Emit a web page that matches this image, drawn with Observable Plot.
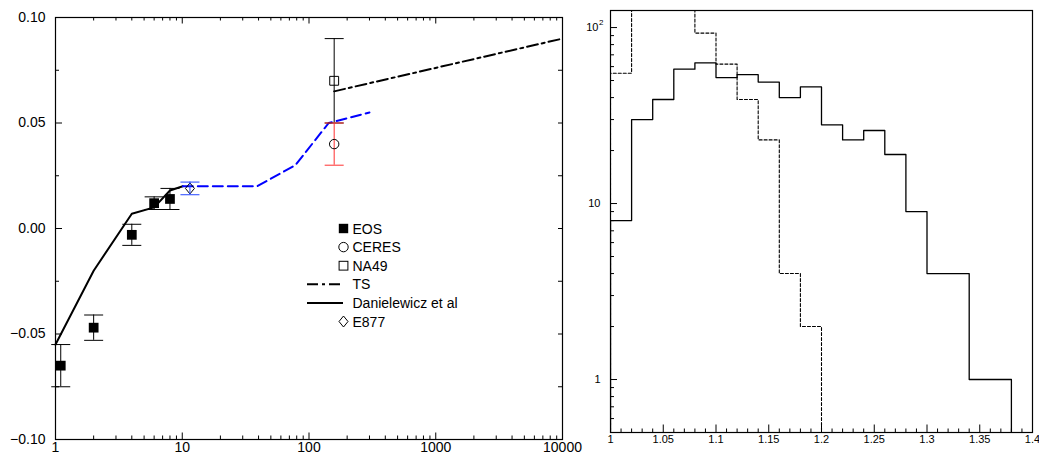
<!DOCTYPE html>
<html><head><meta charset="utf-8">
<script src="https://cdn.jsdelivr.net/npm/d3@7"></script>
<script src="https://cdn.jsdelivr.net/npm/@observablehq/plot@0.6"></script>
<style>
body{margin:0;background:#fff;}
#wrap{position:relative;width:1039px;height:458px;overflow:hidden;font-family:"Liberation Sans",Arial,sans-serif;}
#left{position:absolute;left:0;top:0;}
#right{position:absolute;left:580px;top:0;}
</style></head><body><div id="wrap"><div id="left"></div><div id="right"></div></div>
<script>
// ---------- Left panel data ----------
const eosX  = [1.1, 2, 4, 6, 8];
const eosY  = [-0.065, -0.047, -0.003, 0.012, 0.014];
const eosLo = [-0.075, -0.053, -0.008, 0.009, 0.009];
const eosHi = [-0.055, -0.041, 0.002, 0.015, 0.019];

const e877X = [11.5], e877Y = [0.019], e877Lo = [0.016], e877Hi = [0.022];
const na49X = [158], na49Y = [0.070], na49Lo = [0.050], na49Hi = [0.090];
const ceresX = [158], ceresY = [0.040], ceresLo = [0.030], ceresHi = [0.050];

const tsX = [158, 10000];
const tsY = [0.065, 0.090];
const danX = [1, 2, 4, 6, 8, 10.1];
const danY = [-0.055, -0.020, 0.007, 0.010, 0.018, 0.020];
const blueX = [10.1, 39, 78, 143, 300];
const blueY = [0.020, 0.020, 0.030, 0.050, 0.055];

const leftYTicks = [-0.10, -0.05, 0.00, 0.05, 0.10];
const leftYLabels = ["\u22120.10", "\u22120.05", "0.00", "0.05", "0.10"];
const leftYMinor = [-0.075, -0.025, 0.025, 0.075];
const leftYRight = [-0.075, -0.05, -0.025, 0, 0.025, 0.05, 0.075];
const leftXTicks = [1, 10, 100, 1000, 10000];
const leftXLabels = ["1", "10", "100", "1000", "10000"];
const leftXMinor = [2,3,4,5,6,7,8,9,20,30,40,50,60,70,80,90,200,300,400,500,600,700,800,900,2000,3000,4000,5000,6000,7000,8000,9000];

const legendLabels = ["EOS", "CERES", "NA49", "TS", "Danielewicz et al", "E877"];

// ---------- Right panel data ----------
const binEdges = [1.00,1.02,1.04,1.06,1.08,1.10,1.12,1.14,1.16,1.18,1.20,1.22,1.24,1.26,1.28,1.30,1.32,1.34,1.36,1.38,1.40];
const solidCounts  = [8,30,39,58,63,52,54,49,40,46,28,23,26,19,9,4,4,1,1,0];
const dashedCounts = [55,150,170,140,93,62,39,23,4,2,0,0,0,0,0,0,0,0,0,0];
const rightXTicks = [1,1.05,1.1,1.15,1.2,1.25,1.3,1.35,1.4];
const rightXLabels = ["1","1.05","1.1","1.15","1.2","1.25","1.3","1.35","1.4"];
const rightXMinor = [1.01,1.02,1.03,1.04,1.06,1.07,1.08,1.09,1.11,1.12,1.13,1.14,1.16,1.17,1.18,1.19,1.21,1.22,1.23,1.24,1.26,1.27,1.28,1.29,1.31,1.32,1.33,1.34,1.36,1.37,1.38,1.39];
const rightYTicks = [1, 10];
const rightYLabels = ["1", "10"];
const rightYTop = [100];
const rightYTopBase = "10", rightYTopExp = "2";
const rightYMinor = [0.6,0.7,0.8,0.9,2,3,4,5,6,7,8,9,20,30,40,50,60,70,80,90];

// ---------- helpers ----------
const pts = (xs, ys) => xs.map((x, i) => ({x, y: ys[i]}));
const errs = (xs, ys, lo, hi) => xs.map((x, i) => ({x, y: ys[i], lo: lo[i], hi: hi[i]}));
const capSymbol = {draw(ctx){ ctx.moveTo(-9.5, 0); ctx.lineTo(9.5, 0); }};
const diamondSymbol = {draw(ctx){ ctx.moveTo(0,-5.5); ctx.lineTo(4.5,0); ctx.lineTo(0,5.5); ctx.lineTo(-4.5,0); ctx.closePath(); }};
const FONT = "'Liberation Sans', Arial, Helvetica, sans-serif";

function errorBars(data, color) {
  return [
    Plot.ruleX(data, {x: "x", y1: "lo", y2: "hi", stroke: color, strokeWidth: 1}),
    Plot.dot(data, {x: "x", y: "lo", symbol: capSymbol, stroke: color, fill: "none", strokeWidth: 1}),
    Plot.dot(data, {x: "x", y: "hi", symbol: capSymbol, stroke: color, fill: "none", strokeWidth: 1})
  ];
}

// ---------- Left panel ----------
const H = 458;
const W1 = 600, mL1 = 55, mR1 = W1 - 562, mT1 = 17, mB1 = H - 439;
const iW1 = W1 - mL1 - mR1, iH1 = H - mT1 - mB1;

const eos = errs(eosX, eosY, eosLo, eosHi);
const e877 = errs(e877X, e877Y, e877Lo, e877Hi);
const na49 = errs(na49X, na49Y, na49Lo, na49Hi);
const ceres = errs(ceresX, ceresY, ceresLo, ceresHi);

const leftPlot = Plot.plot({
  width: W1, height: H,
  marginLeft: mL1, marginRight: mR1, marginTop: mT1, marginBottom: mB1,
  x: {type: "log", domain: [1, 10000], axis: null},
  y: {domain: [-0.1, 0.1], axis: null},
  style: {fontFamily: FONT, fontSize: "14px", background: "transparent", color: "black", overflow: "visible"},
  marks: [
    Plot.line(pts(danX, danY), {x: "x", y: "y", stroke: "black", strokeWidth: 2}),
    Plot.line(pts(blueX, blueY), {x: "x", y: "y", stroke: "#0000ff", strokeWidth: 2, strokeDasharray: "10,5"}),
    Plot.line(pts(tsX, tsY), {x: "x", y: "y", stroke: "black", strokeWidth: 2, strokeDasharray: "11,4,3,4", clip: true}),
    ...errorBars(eos, "black"),
    ...errorBars(na49, "black"),
    ...errorBars(ceres, "#ff3030"),
    Plot.dot(eos, {x: "x", y: "y", symbol: "square", r: 5.5, fill: "black", stroke: "none"}),
    Plot.dot(na49, {x: "x", y: "y", symbol: "square", r: 5, fill: "none", stroke: "black", strokeWidth: 1}),
    Plot.dot(ceres, {x: "x", y: "y", symbol: "circle", r: 4.7, fill: "none", stroke: "black", strokeWidth: 1}),
    Plot.dot(e877, {x: "x", y: "y", symbol: diamondSymbol, fill: "none", stroke: "black", strokeWidth: 1}),
    ...errorBars(e877, "#2244ff"),
    Plot.frame({stroke: "black", strokeWidth: 1.2}),
    // ticks
    Plot.tickY(leftYTicks, {y: d => d, insetRight: iW1 - 7, stroke: "black"}),
    Plot.tickY(leftYMinor, {y: d => d, insetRight: iW1 - 4, stroke: "black"}),
    Plot.tickY(leftYRight, {y: d => d, insetLeft: iW1 - 4, stroke: "black"}),
    Plot.tickX(leftXTicks, {x: d => d, insetBottom: iH1 - 6.5, stroke: "black"}),
    Plot.tickX(leftXMinor, {x: d => d, insetBottom: iH1 - 3.5, stroke: "black"}),
    Plot.tickX(leftXTicks, {x: d => d, insetTop: iH1 - 6.5, stroke: "black"}),
    Plot.tickX(leftXMinor, {x: d => d, insetTop: iH1 - 3.5, stroke: "black"}),
    // labels
    Plot.text(leftYTicks, {y: d => d, text: (d, i) => leftYLabels[i], frameAnchor: "left", dx: -10, textAnchor: "end", fill: "black"}),
    Plot.text(leftXTicks, {x: d => d, text: (d, i) => leftXLabels[i], frameAnchor: "bottom", dy: 12, fill: "black"})
  ]
});
document.getElementById("left").appendChild(leftPlot);

// legend inside left panel
{
  const svg = d3.select(leftPlot);
  const g = svg.append("g").attr("font-family", FONT).attr("font-size", 14).attr("text-anchor", "start");
  const rowY = i => 228.5 + i * 18.6;
  const mx = 343.5, tx = 352.5;
  legendLabels.forEach((lab, i) => {
    g.append("text").attr("x", tx).attr("y", rowY(i)).attr("dy", "0.36em").attr("fill", "black").attr("text-anchor", "start").text(lab);
  });
  g.append("rect").attr("x", mx - 4.7).attr("y", rowY(0) - 4.7).attr("width", 9.4).attr("height", 9.4).attr("fill", "black");
  g.append("circle").attr("cx", mx).attr("cy", rowY(1)).attr("r", 4.7).attr("fill", "none").attr("stroke", "black");
  g.append("rect").attr("x", mx - 4.4).attr("y", rowY(2) - 4.4).attr("width", 8.8).attr("height", 8.8).attr("fill", "none").attr("stroke", "black");
  g.append("line").attr("x1", 307).attr("x2", 343).attr("y1", rowY(3)).attr("y2", rowY(3)).attr("stroke", "black").attr("stroke-width", 2).attr("stroke-dasharray", "11,4,3,4");
  g.append("line").attr("x1", 307).attr("x2", 343).attr("y1", rowY(4)).attr("y2", rowY(4)).attr("stroke", "black").attr("stroke-width", 2);
  g.append("path").attr("d", `M${mx},${rowY(5)-5.5}L${mx+4.5},${rowY(5)}L${mx},${rowY(5)+5.5}L${mx-4.5},${rowY(5)}Z`).attr("fill", "none").attr("stroke", "black");
}

// ---------- Right panel ----------
const W2 = 459, mL2 = 30, mR2 = 7, mT2 = 10, mB2 = 26;
const iW2 = W2 - mL2 - mR2, iH2 = H - mT2 - mB2;
function stepPoints(counts) {
  const floor = 0.1;
  const p = [{x: binEdges[0], y: floor}];
  counts.forEach((c, i) => p.push({x: binEdges[i], y: Math.max(c, floor)}));
  p.push({x: binEdges[counts.length], y: Math.max(counts[counts.length - 1], floor)});
  return p;
}
const rightPlot = Plot.plot({
  width: W2, height: H,
  marginLeft: mL2, marginRight: mR2, marginTop: mT2, marginBottom: mB2,
  x: {domain: [1, 1.4], axis: null},
  y: {type: "log", domain: [0.5, 125], axis: null},
  style: {fontFamily: FONT, fontSize: "11px", background: "transparent", color: "black", overflow: "visible"},
  marks: [
    Plot.line(stepPoints(dashedCounts), {x: "x", y: "y", curve: "step-after", stroke: "black", strokeWidth: 1.1, strokeDasharray: "3,2", clip: true}),
    Plot.line(stepPoints(solidCounts), {x: "x", y: "y", curve: "step-after", stroke: "black", strokeWidth: 1.3, clip: true}),
    Plot.frame({stroke: "black", strokeWidth: 1.2}),
    Plot.tickY([...rightYTicks, ...rightYTop], {y: d => d, insetRight: iW2 - 7, stroke: "black"}),
    Plot.tickY(rightYMinor, {y: d => d, insetRight: iW2 - 4, stroke: "black"}),
    Plot.tickX(rightXTicks, {x: d => d, insetTop: iH2 - 7.5, stroke: "black"}),
    Plot.tickX(rightXMinor, {x: d => d, insetTop: iH2 - 3.5, stroke: "black"}),
    Plot.text(rightYTicks, {y: d => d, text: (d, i) => rightYLabels[i], frameAnchor: "left", dx: -10, textAnchor: "end", fill: "black"}),
    Plot.text(rightYTop, {y: d => d, text: () => rightYTopBase, frameAnchor: "left", dx: -12, textAnchor: "end", fill: "black"}),
    Plot.text(rightYTop, {y: d => d, text: () => rightYTopExp, frameAnchor: "left", dx: -11.5, dy: -5, textAnchor: "start", fontSize: 8, fill: "black"}),
    Plot.text(rightXTicks, {x: d => d, text: (d, i) => rightXLabels[i], frameAnchor: "bottom", dy: 10, fill: "black"})
  ]
});
document.getElementById("right").appendChild(rightPlot);
</script>
</body></html>
